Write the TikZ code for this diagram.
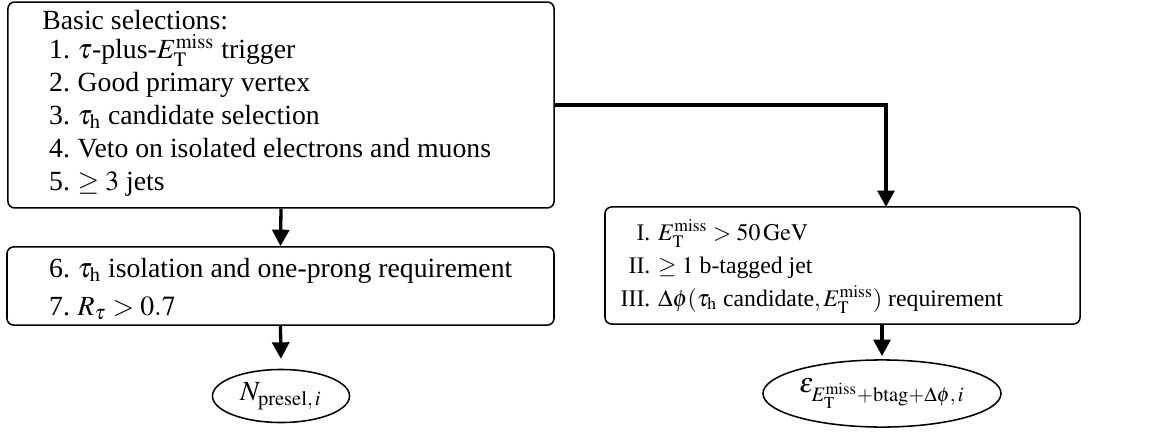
\documentclass[tikz,border=0pt]{standalone}
\usepackage{mathptmx}
\usepackage[no-math]{fontspec}
\setmainfont{Liberation Serif}
\usetikzlibrary{arrows.meta,shapes.geometric}
\newcommand{\Emiss}{E_{\mathrm{T}}^{\mathrm{miss}}}
\newcommand{\tauh}{\tau_{\mathrm{h}}}
\newcommand{\numlab}[1]{\makebox[12.5pt][r]{#1}}
\newcommand{\romlab}[1]{\makebox[13.6pt][r]{#1}}
\begin{document}
\begin{tikzpicture}[x=0.4545pt,y=-0.4545pt,
  stagebox/.style={draw,line width=0.7pt,rounded corners=3pt,inner sep=0pt},
  listtext/.style={inner sep=0pt,anchor=base west,font=\fontsize{12.6}{15}\selectfont},
  cutlist/.style={listtext,font=\fontsize{10.8}{15}\selectfont},
  result/.style={draw,ellipse,line width=0.7pt,inner sep=0pt,font=\fontsize{12.6}{15}\selectfont},
  flow/.style={line width=1.5pt,-{Triangle[width=7.7pt,length=7.5pt]}}]
\useasboundingbox (0,0) rectangle (1164,432);

% selection stages
\node[stagebox,minimum width=248.2pt,minimum height=93.6pt] (b1) at (281,105) {};
\node[stagebox,minimum width=248.6pt,minimum height=35.5pt] (b2) at (280.5,286) {};
\node[stagebox,minimum width=215.9pt,minimum height=53.2pt] (b3) at (842.5,265.5) {};

\node[listtext] (b1t) at (42,29.5) {\begin{tabular}[t]{@{}r@{\hspace{3.5pt}}l@{}}
\multicolumn{2}{@{}l@{}}{Basic selections:}\\[-2.3pt]
\numlab{1.} & $\tau$-plus-$\Emiss$ trigger\\
2. & Good primary vertex\\
3. & $\tauh$ candidate selection\\
4. & Veto on isolated electrons and muons\\
5. & $\geq 3$ jets
\end{tabular}};

\node[listtext] (b2t) at (42,277) {\begin{tabular}[t]{@{}r@{\hspace{3.5pt}}l@{}}
\numlab{6.} & $\tauh$ isolation and one-prong requirement\\[2.5pt]
7. & $R_{\tau} > 0.7$
\end{tabular}};

\node[cutlist] (b3t) at (620,240) {\begin{tabular}[t]{@{}r@{\hspace{3.5pt}}l@{}}
\romlab{I.} & $\Emiss > 50\,\mathrm{GeV}$\\
II. & $\geq 1$ b-tagged jet\\
III. & $\Delta\phi(\tauh\ \mbox{candidate},\Emiss)$ requirement
\end{tabular}};

% results
\node[result,minimum width=62.3pt,minimum height=24.1pt] (e1) at (281,396) {$N_{\mathrm{presel},\,i}$};
\node[result,minimum width=108.2pt,minimum height=30.5pt] (e2) at (882,393.5) {$\varepsilon_{\Emiss+\mathrm{btag}+\Delta\phi,\,i}$};

% flow
\coordinate (b3in) at (886,207);
\draw[flow] (b1.south) -- (b2.north);
\draw[flow] (b1.east) -| (b3in);
\draw[flow,shorten >=4.5pt] (b2.south) -- (e1.north);
\draw[flow,shorten >=1.4pt] (e2.north |- b3.south) -- (e2.north);
\end{tikzpicture}
\end{document}
